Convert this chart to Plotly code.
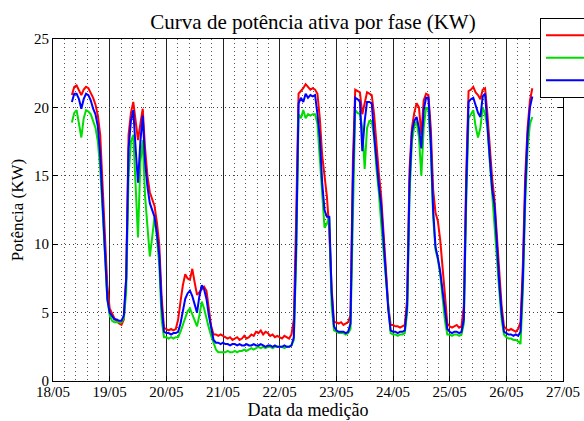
import pandas as pd
import plotly.graph_objects as go

# hourly samples starting 18/05 08:00
start_time = "2013-05-18 08:00"

fase_a = [  # red
    20.9, 21.5, 21.6, 21.2, 20.9, 21.3, 21.5, 21.4, 21.1, 20.7, 20.2, 19.4, 18.0, 14.5, 10.2, 7.0,
    5.3, 4.9, 4.6, 4.4, 4.2, 4.1, 4.5, 7.5, 18.0, 19.6, 20.4, 19.0, 17.6, 18.8, 19.9, 17.0, 15.0, 13.8, 13.3, 12.8, 11.6, 10.0, 6.2, 3.9,
    3.8, 3.7, 3.8, 3.7, 3.8, 4.5, 5.8, 7.0, 7.8, 7.5, 7.4, 8.2, 7.2, 6.3, 6.5, 6.7, 6.9, 6.6, 5.4, 4.0, 3.4, 3.4, 3.3, 3.4,
    3.3, 3.2, 3.1, 3.2, 3.0, 3.1, 3.2, 3.0, 3.1, 3.3, 3.1, 3.2, 3.4, 3.3, 3.6, 3.5, 3.7, 3.4, 3.6, 3.5, 3.3, 3.4, 3.2, 3.3,
    3.2, 3.1, 3.3, 3.2, 3.1, 3.4, 4.5, 12.0, 21.0, 21.2, 21.4, 21.7, 21.5, 21.3, 21.4, 21.3, 21.0, 19.2, 16.5, 15.0, 13.5, 11.0, 6.8, 4.3,
    4.3, 4.2, 4.3, 4.1, 4.2, 4.3, 4.8, 16.0, 21.3, 21.2, 21.1, 19.5, 20.2, 21.1, 21.0, 20.9, 19.5, 17.0, 15.2, 13.5, 11.0, 8.0, 5.5, 4.1,
    4.1, 4.0, 4.0, 3.9, 4.0, 4.1, 6.0, 15.5, 18.5, 19.6, 20.3, 20.0, 18.0, 20.5, 21.0, 20.9, 18.5, 14.0, 12.3, 11.7, 10.3, 8.5, 6.3, 4.2,
    4.0, 3.9, 4.0, 4.1, 3.9, 4.0, 5.5, 15.0, 21.2, 21.3, 21.5, 21.1, 20.9, 20.6, 21.3, 21.4, 19.5, 16.8, 14.8, 13.2, 10.5, 7.8, 5.5, 4.0,
    3.8, 3.7, 3.8, 3.7, 3.6, 3.8, 4.3, 8.5, 15.0, 18.5, 20.5, 21.4,
]

fase_b = [  # green
    18.9, 19.6, 19.8, 18.8, 17.8, 19.2, 19.8, 19.7, 19.5, 19.0, 18.5, 17.5, 15.5, 12.5, 8.8, 6.0,
    4.8, 4.4, 4.3, 4.3, 4.3, 4.3, 4.6, 6.5, 15.0, 17.5, 18.0, 14.0, 10.5, 16.0, 17.6, 13.5, 11.0, 9.1, 10.5, 12.0, 10.5, 8.5, 4.5, 3.2,
    3.2, 3.1, 3.2, 3.1, 3.2, 3.2, 3.6, 4.1, 4.5, 5.1, 5.3, 4.9, 4.4, 4.0, 4.8, 5.8, 5.3, 4.5, 3.9, 3.3, 2.8, 2.3, 2.1, 2.1,
    2.1, 2.1, 2.2, 2.1, 2.1, 2.2, 2.1, 2.2, 2.2, 2.3, 2.2, 2.3, 2.4, 2.3, 2.4, 2.5, 2.4, 2.5, 2.4, 2.5, 2.5, 2.4, 2.5, 2.5,
    2.5, 2.5, 2.4, 2.5, 2.5, 2.6, 3.0, 9.0, 19.5, 19.2, 19.8, 19.2, 19.5, 19.4, 19.5, 19.5, 18.8, 16.4, 13.5, 11.2, 11.5, 12.0, 5.5, 3.7,
    3.6, 3.5, 3.5, 3.5, 3.4, 3.5, 3.8, 12.0, 19.8, 19.6, 19.5, 18.5, 15.5, 18.5, 19.0, 19.0, 17.8, 15.5, 13.8, 11.5, 9.4, 7.2, 5.0, 3.5,
    3.4, 3.4, 3.3, 3.4, 3.4, 3.5, 5.0, 13.5, 17.5, 18.6, 19.0, 17.8, 15.0, 18.5, 20.0, 19.8, 17.0, 12.0, 9.6, 8.9, 7.8, 6.2, 4.4, 3.4,
    3.4, 3.3, 3.4, 3.4, 3.3, 3.4, 4.2, 13.0, 19.2, 19.5, 19.8, 18.6, 17.8, 18.5, 20.0, 19.5, 18.5, 16.0, 13.8, 11.8, 9.0, 6.6, 4.5, 3.4,
    3.2, 3.1, 3.1, 3.0, 3.0, 2.9, 2.7, 6.5, 13.0, 17.0, 18.8, 19.3,
]

fase_c = [  # blue
    20.4, 21.0, 21.0, 20.6, 19.9, 20.6, 21.0, 20.9, 20.5, 19.9, 19.5, 18.6, 16.5, 13.0, 9.0, 6.0,
    5.0, 4.7, 4.5, 4.5, 4.4, 4.4, 4.8, 7.5, 17.0, 19.0, 19.8, 17.0, 14.5, 17.5, 19.4, 16.0, 14.2, 13.0, 12.5, 12.0, 10.8, 9.2, 5.5, 3.6,
    3.5, 3.5, 3.4, 3.5, 3.5, 3.6, 4.2, 5.2, 6.0, 6.4, 6.6, 6.2, 5.5, 5.0, 6.2, 7.0, 6.7, 6.0, 4.8, 3.8, 3.0, 2.8, 2.8, 2.7,
    2.8, 2.7, 2.7, 2.6, 2.7, 2.7, 2.6, 2.7, 2.6, 2.6, 2.7, 2.6, 2.6, 2.7, 2.6, 2.6, 2.7, 2.6, 2.5, 2.6, 2.6, 2.5, 2.6, 2.5,
    2.5, 2.5, 2.6, 2.5, 2.5, 2.6, 3.2, 10.0, 20.3, 20.7, 20.4, 21.0, 20.7, 20.9, 20.8, 20.9, 19.5, 17.8, 14.5, 12.5, 12.0, 12.0, 6.5, 4.0,
    3.7, 3.6, 3.6, 3.6, 3.5, 3.6, 4.2, 14.5, 20.7, 20.6, 20.4, 16.8, 19.0, 20.4, 20.4, 20.3, 18.0, 16.0, 14.3, 12.8, 10.5, 7.5, 5.2, 3.7,
    3.6, 3.6, 3.5, 3.6, 3.6, 3.7, 5.5, 14.5, 18.2, 19.0, 19.3, 18.5, 17.0, 19.8, 20.7, 20.7, 17.5, 12.5, 9.8, 9.0, 8.0, 6.6, 5.0, 3.8,
    3.6, 3.5, 3.6, 3.6, 3.5, 3.6, 4.5, 14.0, 20.4, 20.6, 20.7, 20.2, 19.6, 19.3, 20.8, 21.0, 18.8, 16.2, 14.0, 12.8, 9.5, 7.2, 5.0, 3.6,
    3.5, 3.4, 3.4, 3.3, 3.4, 3.3, 3.6, 7.5, 14.0, 18.0, 20.0, 20.8,
]

series_names = ["Fase A", "Fase B", "Fase C"]
series_colors = ["#FF0000", "#00DD00", "#0000FF"]
day_ticks = pd.date_range("2013-05-18", "2013-05-27", freq="D")
day_labels = ["18/05", "19/05", "20/05", "21/05", "22/05", "23/05", "24/05", "25/05", "26/05", "27/05"]

times = pd.date_range(start_time, periods=len(fase_a), freq="h")

FONT = "Liberation Serif, Times New Roman, serif"

fig = go.Figure()
for name, vals, col in zip(series_names, [fase_a, fase_b, fase_c], series_colors):
    fig.add_trace(go.Scatter(x=times, y=vals, mode="lines", name=name,
                             line=dict(color=col, width=2)))

fig.update_layout(
    width=584, height=421,
    margin=dict(l=53, r=21, t=39, b=40, autoexpand=False),
    paper_bgcolor="white", plot_bgcolor="white",
    font=dict(family=FONT, size=15, color="black"),
    title=dict(text="Curva de potência ativa por fase (KW)", x=313 / 584,
               xanchor="center", y=1 - 22 / 421, yanchor="middle",
               font=dict(family=FONT, size=21, color="black")),
    showlegend=True,
    legend=dict(x=(540 - 53) / 510, y=(381 - 18) / 342, xanchor="left", yanchor="top",
                bgcolor="white", bordercolor="black", borderwidth=1, itemwidth=44,
                font=dict(family=FONT, size=15, color="black"), tracegroupgap=0),
    xaxis=dict(
        type="date", range=[day_ticks[0], day_ticks[-1]],
        tickmode="array", tickvals=day_ticks, ticktext=day_labels,
        showline=True, mirror=True, linecolor="black", linewidth=1,
        ticks="inside", ticklen=5, tickcolor="black",
        showgrid=True, gridcolor="#222222", gridwidth=1,
        minor=dict(dtick=4.8 * 3600 * 1000, showgrid=True, gridcolor="#555555",
                   griddash="1px,3px", gridwidth=1),
        zeroline=False,
        ticklabelstandoff=-3,
        title=dict(text="Data da medição", font=dict(family=FONT, size=18), standoff=0),
        tickfont=dict(family=FONT, size=15),
    ),
    yaxis=dict(
        range=[0, 25], dtick=5, tick0=0,
        showline=True, mirror="allticks", linecolor="black", linewidth=1,
        ticks="inside", ticklen=5, tickcolor="black",
        showgrid=True, gridcolor="#444444", griddash="1px,3px", gridwidth=1,
        zeroline=False,
        title=dict(text="Potência (KW)", font=dict(family=FONT, size=17), standoff=6),
        tickfont=dict(family=FONT, size=15),
    ),
)

fig.write_html("out.html", config={"displayModeBar": False},
               post_script="document.body.style.margin='0';")
